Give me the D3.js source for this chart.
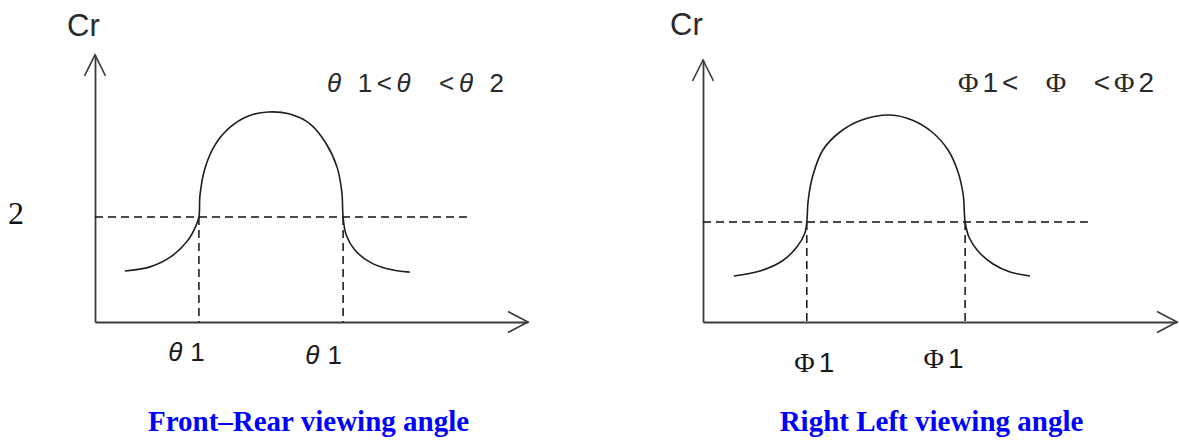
<!DOCTYPE html>
<html>
<head>
<meta charset="utf-8">
<script src="https://cdn.jsdelivr.net/npm/d3@7"></script>
<style>
  body { margin: 0; background: #fff; }
  svg { display: block; }
</style>
</head>
<body>
<div data-chart></div>
<script>
// front-rear curve (angle in arbitrary units 0..100, Cr)
const frontAngle = [6.9, 12.7, 17.8, 21.5, 23.3, 24.0, 24.25, 25.4, 27.7, 31.2, 35.3, 40.0, 45.0, 49.7, 53.3, 55.9, 57.0, 57.3, 58.0, 60.0, 63.5, 67.7, 72.7]
const frontCr = [0.97, 1.05, 1.26, 1.56, 1.83, 2.0, 2.42, 2.93, 3.37, 3.71, 3.92, 4.0, 3.96, 3.77, 3.41, 2.95, 2.48, 2.0, 1.66, 1.37, 1.14, 1.01, 0.95]
const frontTicks = [24.0, 57.3]
const frontTickLabels = ['θ1', 'θ1']
const frontLimit = 85.9

// right-left curve
const sideAngle = [6.5, 12.0, 16.7, 19.8, 21.5, 21.9, 22.2, 23.2, 25.3, 28.9, 33.5, 39.5, 44.1, 48.3, 51.7, 53.8, 54.9, 55.3, 56.1, 58.0, 61.2, 64.8, 69.0]
const sideCr = [0.92, 1.02, 1.22, 1.5, 1.78, 2.0, 2.44, 2.94, 3.44, 3.8, 4.04, 4.14, 4.04, 3.8, 3.44, 3.0, 2.54, 2.0, 1.7, 1.42, 1.16, 1.0, 0.92]
const sideTicks = [21.9, 55.3]
const sideTickLabels = ['Φ1', 'Φ1']
const sideLimit = 81.2

const crLevel = 2
const crLevelLabel = '2'

const sansFont = "'Liberation Sans', Arial, sans-serif"
const serifFont = "'Liberation Serif', 'Times New Roman', serif"

const svg = d3.select('[data-chart]').append('svg')
    .attr('width', 1179)
    .attr('height', 446)

// writes a label like "θ1" as greek symbol + rest, symbol styled separately
function symbolText(sel, label, sym) {
    sel.text('')
    let s = sel.append('tspan').text(label[0])
    if (sym.font) s.style('font-family', sym.font)
    if (sym.italic) s.style('font-style', 'italic')
    sel.append('tspan').attr('dx', sym.gap).text(label.slice(1))
}

function drawPanel(opt) {
    let x = d3.scaleLinear().domain([0, 100]).range(opt.xRange)
    let y = d3.scaleLinear().domain([0, crLevel]).range(opt.yRange)
    let g = svg.append('g')
    let axisColor = '#3a3a3a'

    // x axis
    let xAxis = g.append('g')
        .attr('transform', 'translate(0,' + y(0) + ')')
        .call(d3.axisBottom(x)
            .tickValues(opt.ticks)
            .tickFormat((d, i) => opt.tickLabels[i])
            .tickSize(0)
            .tickPadding(opt.tickPadding))
    xAxis.attr('font-family', null)
    xAxis.select('.domain').attr('stroke', axisColor).attr('stroke-width', 1.8)
    xAxis.selectAll('.tick text')
        .attr('fill', '#1a1a1a')
        .style('font-family', sansFont)
        .style('font-size', opt.tickSize + 'px')
        .attr('dx', (d, i) => opt.tickNudge[i][0])
        .attr('dy', (d, i) => (0.71 * opt.tickSize + opt.tickNudge[i][1]) + 'px')
        .each(function (d, i) { symbolText(d3.select(this), opt.tickLabels[i], opt.sym) })

    // y axis
    let yAxis = g.append('g')
        .attr('transform', 'translate(' + x(0) + ',0)')
        .call(d3.axisLeft(y.copy().domain([0, opt.yMax]).range([y(0), y(opt.yMax)]))
            .tickValues(opt.showLevel ? [crLevel] : [])
            .tickFormat(() => crLevelLabel)
            .tickSize(0)
            .tickPadding(71))
    yAxis.attr('font-family', null)
    yAxis.select('.domain').attr('stroke', axisColor).attr('stroke-width', 1.8)
    yAxis.selectAll('.tick text')
        .attr('fill', '#111')
        .attr('dy', '0.2em')
        .style('font-family', serifFont)
        .style('font-size', '32px')

    // arrow heads
    let tx = x(100), ty = y(0)
    g.append('path')
        .attr('d', 'M' + (tx - 20) + ',' + (ty - 10.5) + 'L' + tx + ',' + ty + 'L' + (tx - 20) + ',' + (ty + 10.5))
        .attr('fill', 'none').attr('stroke', axisColor).attr('stroke-width', 1.6)
    let ax = x(0), ay = y(opt.yMax)
    g.append('path')
        .attr('d', 'M' + (ax - 10.5) + ',' + (ay + 21) + 'L' + ax + ',' + ay + 'L' + (ax + 10.5) + ',' + (ay + 21))
        .attr('fill', 'none').attr('stroke', axisColor).attr('stroke-width', 1.6)

    // dashed reference lines
    g.append('line')
        .attr('x1', x(0)).attr('x2', x(opt.limit))
        .attr('y1', y(crLevel)).attr('y2', y(crLevel))
        .attr('stroke', '#111').attr('stroke-width', 1.5).attr('stroke-dasharray', '8,5')
    g.selectAll('line.drop')
        .data(opt.ticks)
        .enter().append('line')
        .attr('class', 'drop')
        .attr('x1', d => x(d)).attr('x2', d => x(d))
        .attr('y1', y(crLevel)).attr('y2', y(0))
        .attr('stroke', '#111').attr('stroke-width', 1.5).attr('stroke-dasharray', '8,5')

    // curve
    let line = d3.line()
        .x(d => x(d[0]))
        .y(d => y(d[1]))
        .curve(d3.curveCatmullRom.alpha(0.5))
    g.append('path')
        .datum(d3.zip(opt.angle, opt.cr))
        .attr('d', line)
        .attr('fill', 'none')
        .attr('stroke', '#1e1e1e')
        .attr('stroke-width', 1.6)

    // Cr label
    g.append('text')
        .attr('x', x(0) + opt.crDx)
        .attr('y', opt.crY)
        .attr('fill', '#2a2a2a')
        .style('font-family', sansFont)
        .style('font-size', '31px')
        .text('Cr')

    // range text
    let rt = g.append('text')
        .attr('x', opt.rangeX[0])
        .attr('y', 92)
        .attr('fill', '#2a2a2a')
        .attr('textLength', opt.rangeX[1] - opt.rangeX[0])
        .attr('lengthAdjust', 'spacing')
        .style('font-family', sansFont)
        .style('font-size', opt.rangeSize + 'px')
        .style('white-space', 'pre')
    opt.rangeParts.forEach(p => {
        let s = rt.append('tspan').text(p)
        if (p === opt.symbol) {
            if (opt.sym.font) s.style('font-family', opt.sym.font)
            if (opt.sym.italic) s.style('font-style', 'italic')
        }
    })

    // title
    g.append('text')
        .attr('x', opt.titleX)
        .attr('y', 431)
        .attr('text-anchor', 'middle')
        .attr('fill', '#0000ff')
        .style('font-family', serifFont)
        .style('font-weight', 'bold')
        .style('font-size', '29px')
        .text(opt.title)
}

drawPanel({
    xRange: [95, 528],
    yRange: [322, 217],
    yMax: 5.09,
    angle: frontAngle,
    cr: frontCr,
    ticks: frontTicks,
    tickLabels: frontTickLabels,
    tickPadding: 21,
    tickSize: 26,
    tickNudge: [[-13, 0], [-20, 3]],
    symbol: 'θ',
    sym: { font: sansFont, italic: true, gap: 8 },
    limit: frontLimit,
    showLevel: true,
    crDx: -28,
    crY: 36,
    rangeX: [327, 504],
    rangeSize: 26,
    rangeParts: ['θ', ' 1<', 'θ', '  <', 'θ', ' 2'],
    titleX: 308.5,
    title: 'Front\u2013Rear viewing angle'
})

drawPanel({
    xRange: [703, 1177],
    yRange: [322, 222],
    yMax: 5.24,
    angle: sideAngle,
    cr: sideCr,
    ticks: sideTicks,
    tickLabels: sideTickLabels,
    tickPadding: 30,
    tickSize: 28,
    tickNudge: [[7, 0], [-22, -4]],
    symbol: 'Φ',
    sym: { font: serifFont, italic: false, gap: 4 },
    limit: sideLimit,
    showLevel: false,
    crDx: -33,
    crY: 35,
    rangeX: [958, 1154],
    rangeSize: 28,
    rangeParts: ['Φ', '1<  ', 'Φ', '  <', 'Φ', '2'],
    titleX: 931.5,
    title: 'Right Left viewing angle'
})
</script>
</body>
</html>
